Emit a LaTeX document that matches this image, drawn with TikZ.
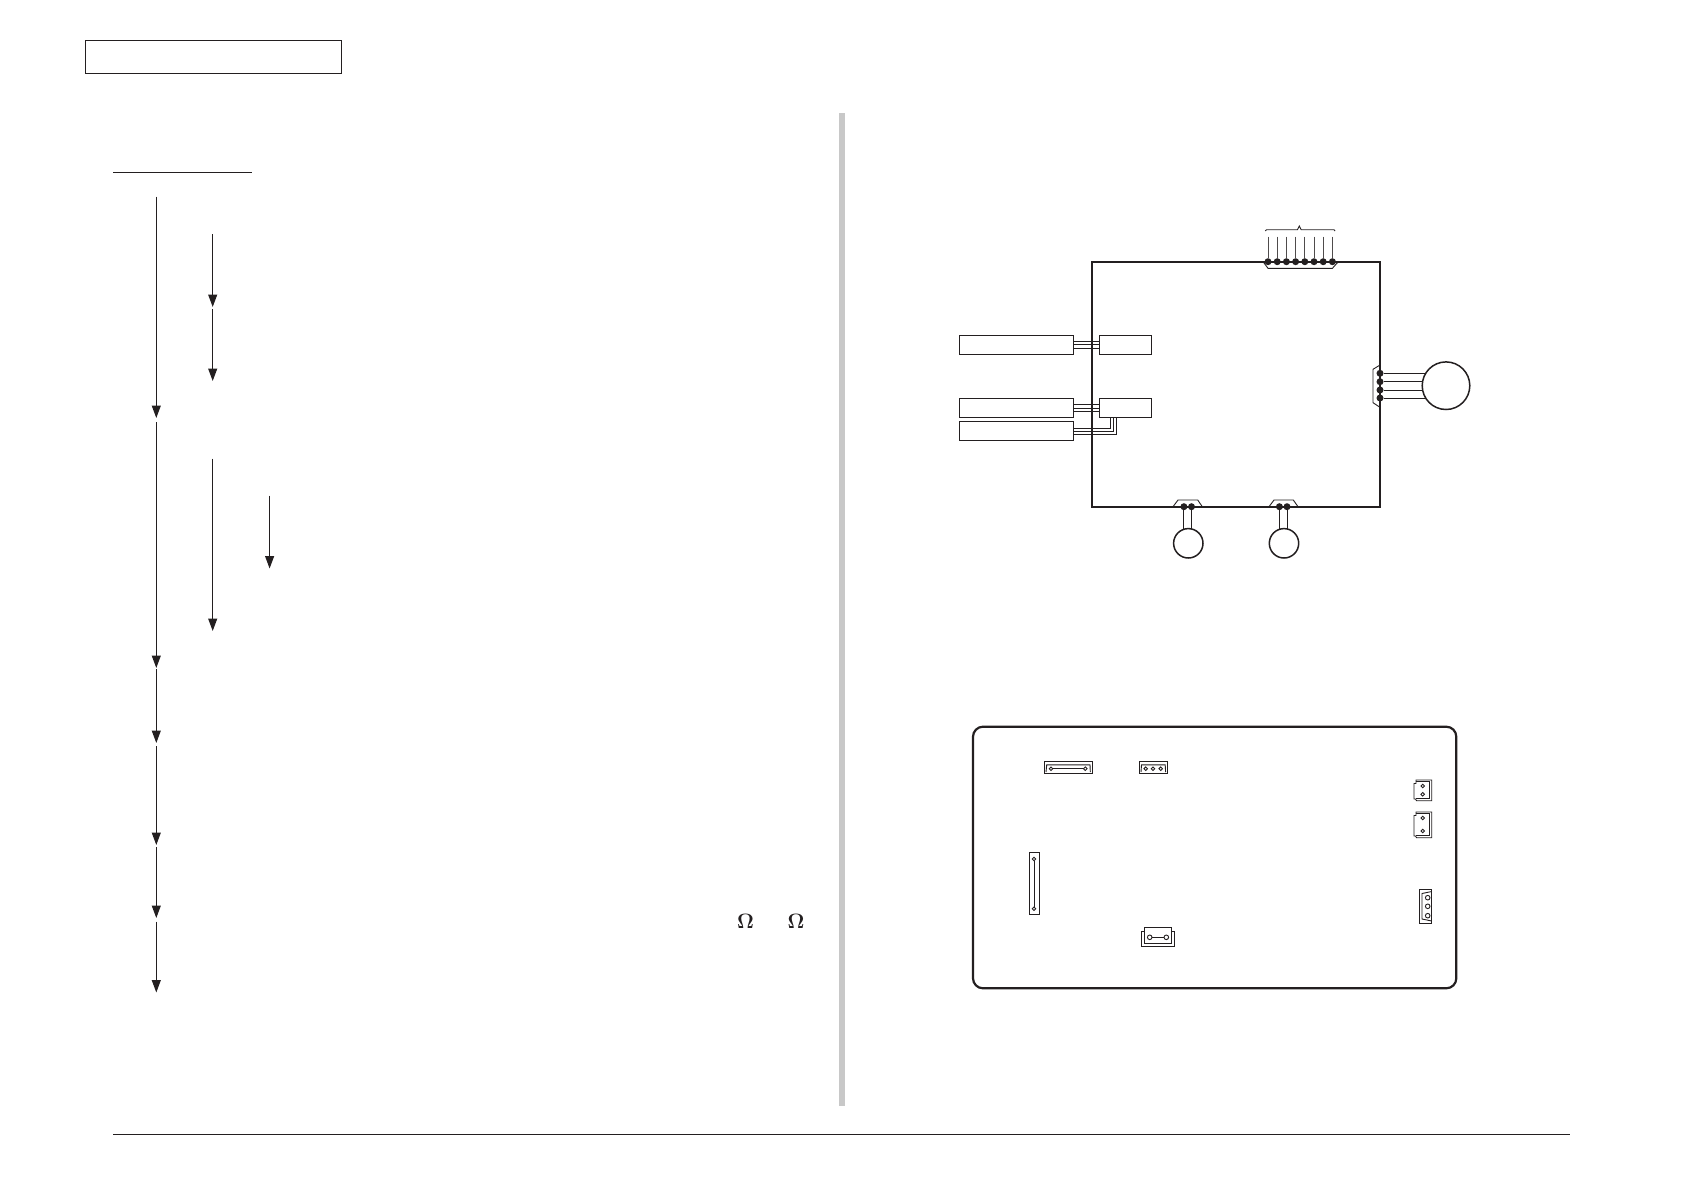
\documentclass[tikz,border=0pt]{standalone}
\usepackage{amsmath}
\usepackage{bm}
\usetikzlibrary{arrows.meta}
\definecolor{ink}{HTML}{231F20}
\definecolor{barcolor}{HTML}{C8C8C8}
\tikzset{
  flow/.style={draw=ink, line width=1.1pt, -{Triangle[length=12.5pt,width=9pt]}},
  unit/.style={draw=ink, line width=1.1pt, inner sep=0pt, outer sep=0pt},
  wire/.style={draw=ink, line width=1pt},
  pcb/.style={draw=ink, line width=2.2pt},
  motor/.style={circle, draw=ink, line width=1.5pt, fill=white, inner sep=0pt, outer sep=0pt},
  pindot/.style={circle, fill=ink, inner sep=0pt, outer sep=0pt, minimum size=7pt},
  pinhole/.style={circle, draw=ink, line width=0.9pt, inner sep=0pt, outer sep=0pt, minimum size=3.6pt},
  housing/.style={draw=ink, line width=0.9pt}
}
\begin{document}
\begin{tikzpicture}[x=1pt, y=-1pt]
    \useasboundingbox (0, 0) rectangle (1684, 1191);
    % page furniture
    \node[unit, minimum width=256.4pt, minimum height=33pt] (title) at (213.5, 56.8){};
    \coordinate (headl) at (113.3, 172.3);
    \coordinate (headr) at (252, 172.3);
    \draw[ink, line width=1pt] (headl)--(headr);
    \coordinate (bartop) at (842.2, 113);
    \coordinate (barbot) at (842.2, 1106);
    \draw[barcolor, line width=6pt] (bartop)--(barbot);
    \coordinate (footl) at (113, 1134.5);
    \coordinate (footr) at (1570, 1134.5);
    \draw[ink, line width=1pt] (footl)--(footr);

    % flow arrows
    \coordinate (m0) at (156.3, 196.7);
    \coordinate (m1) at (156.3, 418);
    \coordinate (m2) at (156.3, 422);
    \coordinate (m3) at (156.3, 668);
    \coordinate (m4) at (156.3, 669);
    \coordinate (m5) at (156.3, 743);
    \coordinate (m6) at (156.3, 746);
    \coordinate (m7) at (156.3, 845);
    \coordinate (m8) at (156.3, 847);
    \coordinate (m9) at (156.3, 918);
    \coordinate (m10) at (156.3, 921.5);
    \coordinate (m11) at (156.3, 992.5);
    \draw[flow] (m0)--(m1);
    \draw[flow] (m2)--(m3);
    \draw[flow] (m4)--(m5);
    \draw[flow] (m6)--(m7);
    \draw[flow] (m8)--(m9);
    \draw[flow] (m10)--(m11);
    \coordinate (s0) at (212.7, 234);
    \coordinate (s1) at (212.7, 307);
    \coordinate (s2) at (212.7, 309);
    \coordinate (s3) at (212.7, 381);
    \coordinate (s4) at (212.7, 458.6);
    \coordinate (s5) at (212.7, 631);
    \coordinate (t0) at (269.6, 495.5);
    \coordinate (t1) at (269.6, 568.5);
    \draw[flow] (s0)--(s1);
    \draw[flow] (s2)--(s3);
    \draw[flow] (s4)--(s5);
    \draw[flow] (t0)--(t1);
    \node[inner sep=0pt, font=\fontsize{20}{20}\selectfont, text=ink] (ohma) at (745.5, 921){$\bm{\Omega}$};
    \node[inner sep=0pt, font=\fontsize{20}{20}\selectfont, text=ink] (ohmb) at (796, 921){$\bm{\Omega}$};

    % wiring diagram
    \node[unit, minimum width=114.7pt, minimum height=19pt] (lampa) at (1016.5, 344.8){};
    \node[unit, minimum width=114.7pt, minimum height=19pt] (lampb) at (1016.5, 408){};
    \node[unit, minimum width=114.7pt, minimum height=19pt] (lampc) at (1016.5, 431){};
    \node[unit, minimum width=52.4pt, minimum height=19pt] (hva) at (1125.5, 344.8){};
    \node[unit, minimum width=52.4pt, minimum height=19pt] (hvb) at (1125.5, 408){};
    \foreach \i/\d in {1/3.3, 2/0, 3/-3.3}{
      \draw[wire] ([yshift=\d pt]lampa.east)--([yshift=\d pt]hva.west);
      \draw[wire] ([yshift=\d pt]lampb.east)--([yshift=\d pt]hvb.west);
    }
    \draw[wire] ([yshift=3pt]lampc.east)-|(1110.3, 417.5);
    \draw[wire] (lampc.east)-|(1113.3, 417.5);
    \draw[wire] ([yshift=-3.4pt]lampc.east)-|(1116.3, 417.5);
    \draw[pcb] (1092, 261.7) rectangle (1380, 506.7);

    % top connector
    \foreach \i/\x in {1/1268, 2/1277.2, 3/1286.4, 4/1295.6, 5/1304.8, 6/1314, 7/1323.2, 8/1332.4}{
      \node[pindot] (top\i) at (\x, 261.7){};
      \coordinate (lead\i) at (\x, 236.7);
      \draw[ink!80, line width=1pt] (lead\i)--(top\i);
    }
    \draw[housing] (1263, 261.7)--(1268, 268.3)--(1332.4, 268.3)--(1338.3, 261.7);
    \draw[housing] (1265.3, 231)--(1266.5, 229.7)--(1297.5, 229.7)--(1299.3, 226)--(1301.1, 229.7)--(1334, 229.7)--(1335, 231);

    % right motor
    \node[motor, minimum size=47.6pt] (mainmotor) at (1446, 385.7){};
    \node[pindot] (ra) at (1380, 373.3){};
    \node[pindot] (rb) at (1380, 381.7){};
    \node[pindot] (rc) at (1380, 390){};
    \node[pindot] (rd) at (1380, 398){};
    \draw[wire] (ra)--(ra -| mainmotor.149);
    \draw[wire] (rb)--(rb -| mainmotor.170);
    \draw[wire] (rc)--(rc -| mainmotor.190);
    \draw[wire] (rd)--(rd -| mainmotor.211);
    \draw[housing] (1380, 365)--(1373, 369.3)--(1373, 402.7)--(1380, 407.3);

    % bottom fans
    \node[motor, minimum size=29.4pt] (fana) at (1188.3, 543.3){};
    \node[motor, minimum size=29.4pt] (fanb) at (1284, 543.3){};
    \node[pindot] (fa1) at (1183.9, 506.7){};
    \node[pindot] (fa2) at (1191.5, 506.7){};
    \node[pindot] (fb1) at (1279.4, 506.7){};
    \node[pindot] (fb2) at (1287, 506.7){};
    \draw[wire] (fa1)--(fa1 |- fana.105);
    \draw[wire] (fa2)--(fa2 |- fana.75);
    \draw[wire] (fb1)--(fb1 |- fanb.105);
    \draw[wire] (fb2)--(fb2 |- fanb.75);
    \draw[housing] (1173, 506.7)--(1178, 500)--(1197.7, 500)--(1202.3, 506.7);
    \draw[housing] (1269, 506.7)--(1274, 500)--(1293.3, 500)--(1298, 506.7);

    % board layout
    \draw[pcb, rounded corners=10pt] (973, 726.7) rectangle (1456.3, 988.3);

    \draw[housing] (1044.3, 761.7) rectangle (1092.5, 773.7);
    \draw[housing] (1046, 772)--(1046.7, 764.8)--(1090, 764.8)--(1090.3, 772);
    \node[pinhole] (aa) at (1051, 768.7){};
    \node[pinhole] (ab) at (1085.3, 768.7){};
    \draw[housing] (aa)--(ab);

    \draw[housing] (1139.3, 761.7) rectangle (1167.4, 773.7);
    \draw[housing] (1141, 772)--(1141.5, 764.8)--(1165.2, 764.8)--(1165.6, 772);
    \node[pinhole] (ba) at (1145.7, 768.7){};
    \node[pinhole] (bb) at (1153, 768.7){};
    \node[pinhole] (bc) at (1160.7, 768.7){};

    \draw[housing] (1029, 852.3) rectangle (1039.3, 914.7);
    \node[pinhole] (ca) at (1034, 859){};
    \node[pinhole] (cb) at (1034, 908.7){};
    \draw[housing] (ca)--(cb);

    \draw[housing] (1141.7, 946)--(1141.7, 931)--(1144.3, 931)--(1144.3, 927.5)--(1171.7, 927.5)--(1171.7, 931)--(1174.3, 931)--(1174.3, 946)--cycle;
    \draw[housing] (1144.3, 931)--(1144.3, 943)--(1171.7, 943)--(1171.7, 931);
    \node[pinhole, minimum size=4.6pt] (da) at (1149.7, 937.3){};
    \node[pinhole, minimum size=4.6pt] (db) at (1166.3, 937.3){};
    \draw[housing] (da)--(db);

    \draw[housing] (1416, 780)--(1431.7, 780)--(1431.7, 800.7)--(1416.5, 800.7)--(1415.5, 799)--(1414, 799)--(1414, 783.5)--(1416, 783.5)--cycle;
    \draw[housing] (1416, 781.5)--(1429.3, 781.5)--(1429.3, 798.5)--(1416, 798.5);
    \node[pinhole] (ea) at (1422.7, 786){};
    \node[pinhole] (eb) at (1422.7, 794.3){};

    \draw[housing] (1416, 812)--(1431.7, 812)--(1431.7, 837.7)--(1416.5, 837.7)--(1415.5, 836)--(1414, 836)--(1414, 815.5)--(1416, 815.5)--cycle;
    \draw[housing] (1416, 813.5)--(1429.3, 813.5)--(1429.3, 835.5)--(1416, 835.5);
    \node[pinhole] (fa) at (1422.7, 818){};
    \node[pinhole] (fb) at (1422.7, 831){};

    \draw[housing] (1419.3, 889.3) rectangle (1431.7, 923.3);
    \draw[housing] (1431.7, 891.5)--(1422, 893.5)--(1422, 919)--(1431.7, 921);
    \node[pinhole, minimum size=4.6pt] (ga) at (1427.7, 897.7){};
    \node[pinhole, minimum size=4.6pt] (gb) at (1427.7, 906.3){};
    \node[pinhole, minimum size=4.6pt] (gc) at (1427.7, 915.7){};
  \end{tikzpicture}
\end{document}
